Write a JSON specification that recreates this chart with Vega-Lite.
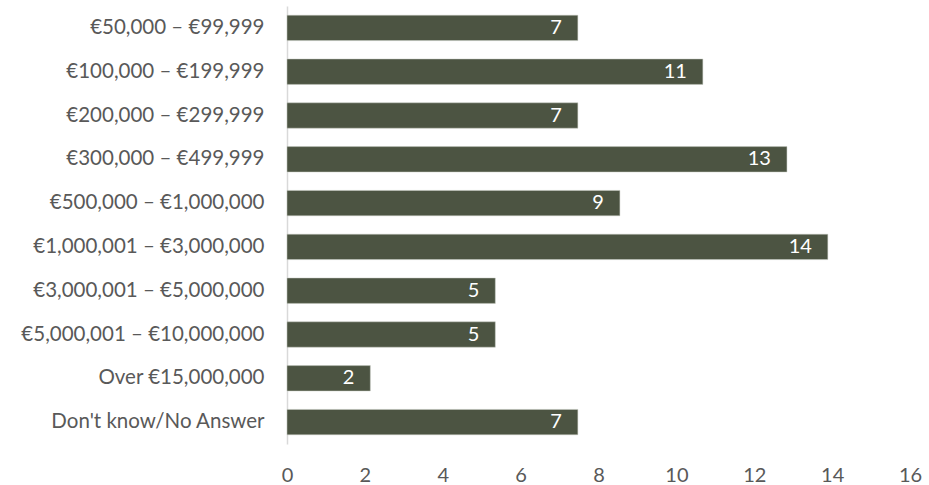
{
  "$schema": "https://vega.github.io/schema/vega-lite/v6.json",
  "autosize": {"type": "none"},
  "padding": {"left": 287, "top": 6, "right": 19, "bottom": 41},
  "width": 623,
  "height": 438,
  "background": "white",
  "config": {"view": {"stroke": null}, "font": "Lato"},
  "data": {
    "values": [
      {"category": "€50,000 – €99,999", "value": 7.47, "label": 7},
      {"category": "€100,000 – €199,999", "value": 10.68, "label": 11},
      {"category": "€200,000 – €299,999", "value": 7.47, "label": 7},
      {"category": "€300,000 – €499,999", "value": 12.84, "label": 13},
      {"category": "€500,000 – €1,000,000", "value": 8.55, "label": 9},
      {"category": "€1,000,001 – €3,000,000", "value": 13.89, "label": 14},
      {"category": "€3,000,001 – €5,000,000", "value": 5.35, "label": 5},
      {"category": "€5,000,001 – €10,000,000", "value": 5.35, "label": 5},
      {"category": "Over €15,000,000", "value": 2.14, "label": 2},
      {"category": "Don't know/No Answer", "value": 7.47, "label": 7}
    ]
  },
  "encoding": {
    "y": {
      "field": "category",
      "type": "nominal",
      "sort": null,
      "scale": {"paddingInner": 0.42, "paddingOuter": 0.21},
      "axis": {
        "title": null,
        "ticks": false,
        "domainColor": "#d9d9d9",
        "domainWidth": 1.5,
        "labelFontSize": 20.5,
        "labelColor": "#595959",
        "labelPadding": 23,
        "labelLimit": 400
      }
    },
    "x": {
      "field": "value",
      "type": "quantitative",
      "scale": {"domain": [0, 16], "nice": false},
      "axis": {
        "title": null,
        "values": [0, 2, 4, 6, 8, 10, 12, 14, 16],
        "domain": false,
        "ticks": false,
        "grid": false,
        "labelFontSize": 20,
        "labelColor": "#595959",
        "labelPadding": 21,
        "labelFlush": false
      }
    }
  },
  "layer": [
    {"mark": {"type": "bar", "color": "#4c5442", "stroke": "#c8ccc4", "strokeWidth": 0.5}},
    {
      "mark": {"type": "text", "align": "right", "baseline": "middle", "dx": -16, "color": "white", "fontSize": 20},
      "encoding": {"text": {"field": "label", "type": "quantitative"}}
    }
  ]
}
